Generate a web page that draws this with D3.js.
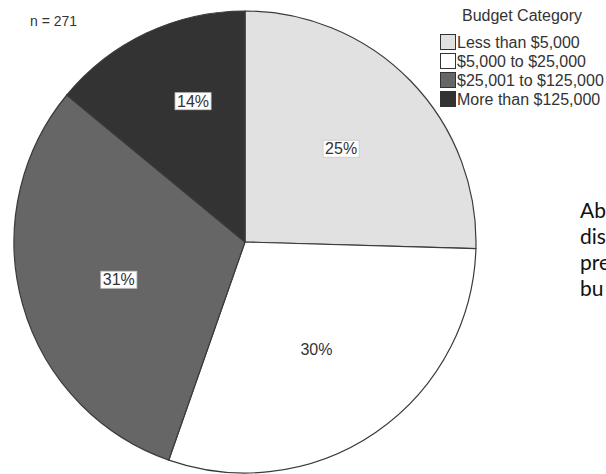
<!DOCTYPE html>
<html><head><meta charset="utf-8">
<script src="https://cdn.jsdelivr.net/npm/d3@7"></script>
<style>
html,body{margin:0;padding:0;background:#fff;overflow:hidden;}
svg{display:block;}
</style></head>
<body>
<script>
const categories = ["Less than $5,000", "$5,000 to $25,000", "$25,001 to $125,000", "More than $125,000"];
const counts = [69, 81, 83, 38];
const percentLabels = ["25%", "30%", "31%", "14%"];
const colors = ["#e1e1e1", "#ffffff", "#666666", "#333333"];
const legendTitle = "Budget Category";
const nLabel = "n = 271";
const sideText = ["Ab", "dis", "pre", "bu"];

// label placement (fraction of radius, angle nudge in degrees) – layout only
const labelRadiusFrac = [0.58, 0.56, 0.57, 0.65];
const labelAngleNudge = [0, 1, -1, 5];

const W = 606, H = 474;
const svg = d3.select("body").append("svg").attr("width", W).attr("height", H);
const font = "Liberation Sans, Arial, sans-serif";

const cx = 245, cy = 242, R = 231;
const pie = d3.pie().sort(null).value(d => d);
const arcs = pie(counts);
const arc = d3.arc().innerRadius(0).outerRadius(R);

const g = svg.append("g").attr("transform", `translate(${cx},${cy})`);
g.selectAll("path.slice").data(arcs).join("path")
  .attr("class", "slice")
  .attr("d", arc)
  .attr("fill", (d, i) => colors[i])
  .attr("stroke", "#3a3a3a")
  .attr("stroke-width", 1.2)
  .attr("stroke-linejoin", "round");

const lab = g.selectAll("g.lab").data(arcs).join("g")
  .attr("class", "lab")
  .attr("transform", (d, i) => {
    const a = (d.startAngle + d.endAngle) / 2 + labelAngleNudge[i] * Math.PI / 180;
    const r = R * labelRadiusFrac[i];
    return `translate(${r * Math.sin(a)},${-r * Math.cos(a)})`;
  });
lab.each(function(d, i) {
  const s = d3.select(this);
  const t = s.append("text")
    .attr("text-anchor", "middle")
    .attr("dy", "0.35em")
    .attr("font-family", font)
    .attr("font-size", 16)
    .attr("fill", "#333")
    .text(percentLabels[i]);
  const bb = t.node().getBBox();
  s.insert("rect", "text")
    .attr("x", bb.x - 2).attr("y", bb.y)
    .attr("width", bb.width + 4).attr("height", bb.height)
    .attr("fill", "#fff")
    .attr("stroke", i === 1 ? "none" : "#c8c8c8")
    .attr("stroke-width", 0.8);
});

svg.append("text")
  .attr("x", 30).attr("y", 26)
  .attr("font-family", font).attr("font-size", 14).attr("fill", "#333")
  .text(nLabel);

const leg = svg.append("g").attr("transform", "translate(440,0)");
leg.append("text")
  .attr("x", 82).attr("y", 21)
  .attr("text-anchor", "middle")
  .attr("font-family", font).attr("font-size", 16).attr("fill", "#333")
  .text(legendTitle);
const ly = d3.scaleBand().domain(categories).range([33, 109]);
const items = leg.selectAll("g.item").data(categories).join("g")
  .attr("class", "item")
  .attr("transform", d => `translate(0,${ly(d)})`);
items.append("rect")
  .attr("x", 0.5).attr("y", 1.5)
  .attr("width", 15).attr("height", 15)
  .attr("fill", (d, i) => colors[i])
  .attr("stroke", "#333").attr("stroke-width", 1);
items.append("text")
  .attr("x", 17).attr("y", 14.5)
  .attr("font-family", font).attr("font-size", 16).attr("fill", "#333")
  .text(d => d);

svg.append("g").selectAll("text").data(sideText).join("text")
  .attr("x", 580)
  .attr("y", (d, i) => 218 + i * 26)
  .attr("font-family", "Lato, 'Open Sans', sans-serif")
  .attr("font-size", 21)
  .attr("fill", "#111")
  .text(d => d);
</script>
</body></html>
